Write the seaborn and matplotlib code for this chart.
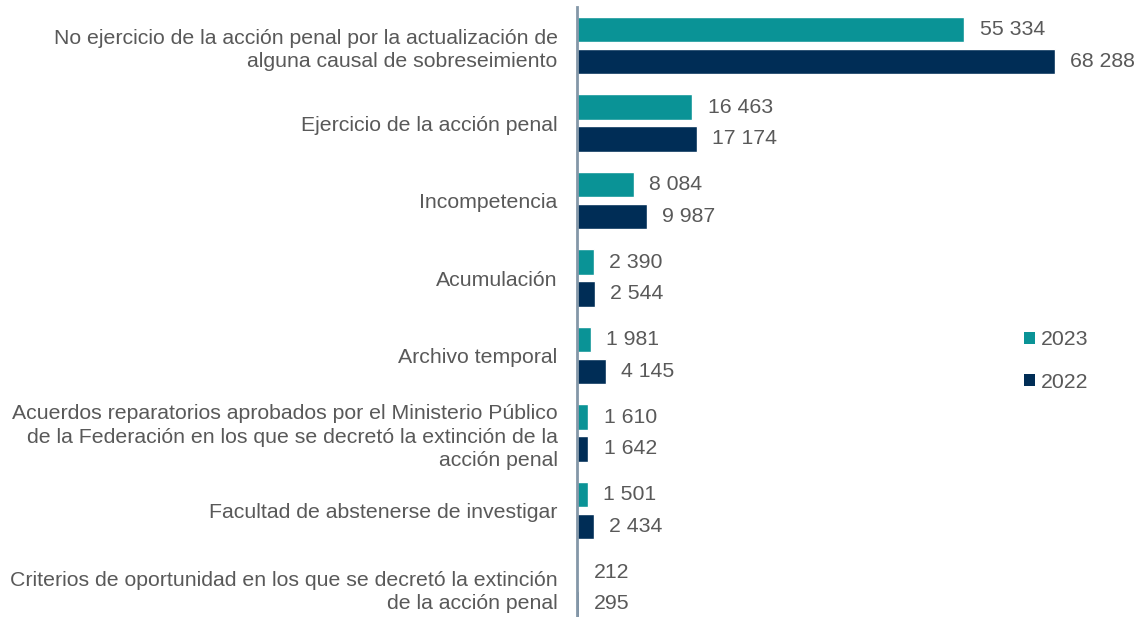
import matplotlib
matplotlib.use("Agg")
import matplotlib.pyplot as plt
from matplotlib.patches import Patch
import seaborn as sns
import pandas as pd

categories = [
    "No ejercicio de la acción penal por la actualización de\nalguna causal de sobreseimiento",
    "Ejercicio de la acción penal",
    "Incompetencia",
    "Acumulación",
    "Archivo temporal",
    "Acuerdos reparatorios aprobados por el Ministerio Público\nde la Federación en los que se decretó la extinción de la\nacción penal",
    "Facultad de abstenerse de investigar",
    "Criterios de oportunidad en los que se decretó la extinción\nde la acción penal",
]
values_2023 = [55334, 16463, 8084, 2390, 1981, 1610, 1501, 212]
values_2022 = [68288, 17174, 9987, 2544, 4145, 1642, 2434, 295]
years = ["2023", "2022"]
colors = {"2023": "#0A9396", "2022": "#002D56"}

df = pd.DataFrame({
    "cat": categories * 2,
    "year": ["2023"] * len(categories) + ["2022"] * len(categories),
    "value": values_2023 + values_2022,
})

sns.set_theme(style="white")
plt.rcParams["font.family"] = ["Liberation Sans", "DejaVu Sans"]
text_color = "#595959"
fs = 15.3

fig = plt.figure(figsize=(11.37, 6.17), dpi=100)
ax = fig.add_axes([577 / 1137, 0.0, 1 - 577 / 1137, (617 - 7) / 617])

sns.barplot(data=df, y="cat", x="value", hue="year", hue_order=years,
            palette=colors, order=categories, orient="h",
            width=0.82, gap=0.19, ax=ax, legend=False, saturation=1)

for cont in ax.containers:
    texts = ax.bar_label(cont, labels=[f"{int(v):,}".replace(",", " ") for v in cont.datavalues],
                         padding=11, fontsize=fs, color=text_color)

ax.set_xlim(0, 80000)
ax.set_ylim(7.374, -0.497)
ax.set_xlabel("")
ax.set_ylabel("")
ax.set_xticks([])
ax.tick_params(axis="y", length=0, pad=14, labelsize=fs, labelcolor=text_color)
for lbl in ax.get_yticklabels():
    lbl.set_horizontalalignment("right")
    lbl.set_linespacing(1.28)
for s in ["top", "right", "bottom"]:
    ax.spines[s].set_visible(False)
ax.spines["left"].set_color("#8497a8")
ax.spines["left"].set_linewidth(2)

handles = [Patch(facecolor=colors[y], edgecolor="none") for y in years]
fig.legend(handles, years, loc="center left", bbox_to_anchor=(1005 / 1137, 1 - 361 / 617),
           frameon=False, fontsize=fs, labelcolor=text_color,
           handlelength=0.5, handleheight=0.5, handletextpad=0.3, labelspacing=1.12)

fig.savefig("out.png", dpi=100)
